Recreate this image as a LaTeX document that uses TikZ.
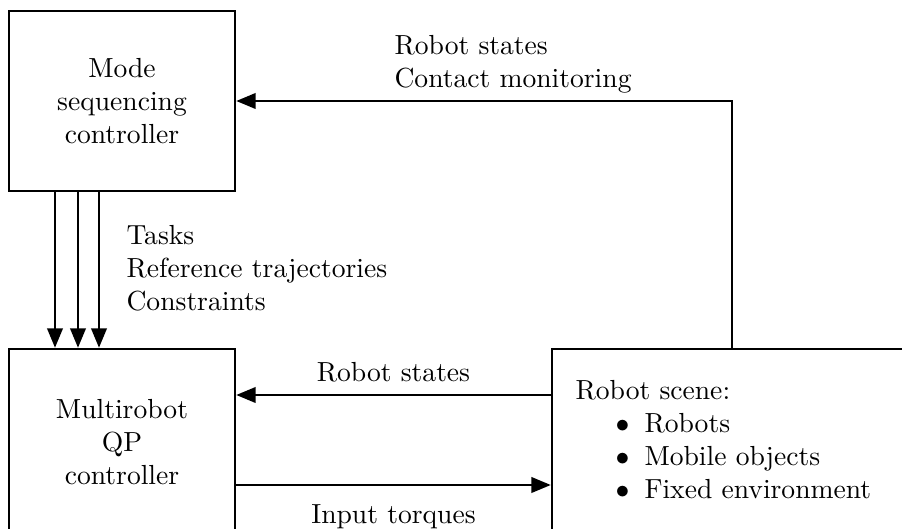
\documentclass[tikz,border=0pt]{standalone}
\usetikzlibrary{arrows.meta}
\begin{document}
\begin{tikzpicture}[x=0.3623pt,y=-0.3623pt,
  box/.style={draw, line width=0.9pt, inner sep=0pt, align=center},
  arr/.style={line width=0.8pt, -{Triangle[length=7pt,width=5.6pt]}},
  lbl/.style={anchor=base west, inner sep=0pt},
  lblc/.style={anchor=base, inner sep=0pt}]
\useasboundingbox (0,0) rectangle (902,529);

% blocks
\node[box, minimum width=81.9pt, minimum height=65.2pt] (msc) at (122,101)
  {Mode\\sequencing\\controller};
\node[box, minimum width=81.9pt, minimum height=67.4pt] (qp) at (122,442)
  {Multirobot\\QP\\controller};
\node[box, minimum width=144.9pt, minimum height=67.4pt] (scene) at (752,442) {};

% contents of the robot scene block
\node[lbl] (scenetitle) at (575,400) {Robot scene:};
\node[lbl] (item1) at (615,433) {$\bullet$\hspace{5.5pt}Robots};
\node[lbl] (item2) at (615,466) {$\bullet$\hspace{5.5pt}Mobile objects};
\node[lbl] (item3) at (615,499) {$\bullet$\hspace{5.5pt}Fixed environment};

% helper coordinates for connector positions
\coordinate (d1) at (55,0);
\coordinate (d2) at (78,0);
\coordinate (d3) at (99,0);
\coordinate (fb) at (732,0);
\coordinate (rs) at (0,395);
\coordinate (it) at (0,485);

% mode sequencing -> QP controller
\draw[arr] (msc.south -| d1) -- (qp.north -| d1);
\draw[arr] (msc.south -| d2) -- (qp.north -| d2);
\draw[arr] (msc.south -| d3) -- (qp.north -| d3);
\node[lbl] (t1) at (126,245) {Tasks};
\node[lbl] (t2) at (126,278) {Reference trajectories};
\node[lbl] (t3) at (126,311) {Constraints};

% feedback from the scene to the mode sequencing controller
\draw[arr] (scene.north -| fb) |- (msc.east);
\node[lbl] (f1) at (394,55) {Robot states};
\node[lbl] (f2) at (394,88) {Contact monitoring};

% exchange between QP controller and scene
\draw[arr] (scene.west |- rs) -- (qp.east |- rs);
\node[lblc] (rslbl) at (393.5,382) {Robot states};
\draw[arr] (qp.east |- it) -- (scene.west |- it);
\node[lblc] (itlbl) at (393.5,524) {Input torques};
\end{tikzpicture}
\end{document}
